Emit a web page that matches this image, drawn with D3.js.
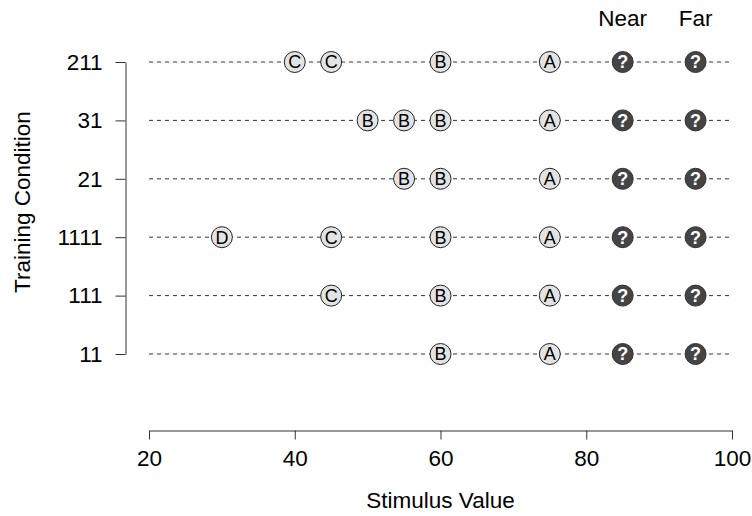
<!DOCTYPE html>
<html>
<head>
<meta charset="utf-8">
<script src="https://cdn.jsdelivr.net/npm/d3@7"></script>
<style>
  body { margin: 0; background: #fff; }
  text { font-family: "Liberation Sans", Arial, sans-serif; }
</style>
</head>
<body>
<div id="chart"></div>
<script>
// Training conditions, top to bottom
const conditions = ["211", "31", "21", "1111", "111", "11"];

// Training stimuli per condition (value and letter)
const trainValues = [
  [40, 45, 60, 75],
  [50, 55, 60, 75],
  [55, 60, 75],
  [30, 45, 60, 75],
  [45, 60, 75],
  [60, 75]
];
const trainLabels = [
  ["C", "C", "B", "A"],
  ["B", "B", "B", "A"],
  ["B", "B", "A"],
  ["D", "C", "B", "A"],
  ["C", "B", "A"],
  ["B", "A"]
];

// Test stimuli (same for every condition)
const testValues = [85, 95];
const testNames = ["Near", "Far"];

const xTicks = [20, 40, 60, 80, 100];

const W = 752, H = 516;
const plot = {left: 149, right: 732, top: 62, bottom: 354};
const axisY = 430.5, axisX = 125.5;
const fontSize = 22.5;

const svg = d3.select("#chart").append("svg")
    .attr("width", W)
    .attr("height", H);

const x = d3.scaleLinear().domain([20, 100]).range([plot.left, plot.right]);
const y = d3.scalePoint().domain(conditions).range([plot.top, plot.bottom]);

// Dashed guide lines for every condition
svg.append("g").selectAll("line")
    .data(conditions)
    .enter().append("line")
    .attr("x1", x(20))
    .attr("x2", x(100))
    .attr("y1", d => y(d))
    .attr("y2", d => y(d))
    .attr("stroke", "#333")
    .attr("stroke-width", 1)
    .attr("stroke-dasharray", "4,4");

// x axis
const xAxis = svg.append("g")
    .attr("transform", `translate(0, ${axisY})`)
    .call(d3.axisBottom(x).tickValues(xTicks).tickSize(9).tickSizeOuter(0).tickPadding(11));
xAxis.select(".domain").attr("stroke", "#333");
xAxis.selectAll(".tick line").attr("stroke", "#333");
xAxis.selectAll("text").attr("font-size", fontSize).attr("fill", "#000")
    .attr("font-family", "Liberation Sans, Arial, sans-serif");

// y axis
const yAxis = svg.append("g")
    .attr("transform", `translate(${axisX}, 0)`)
    .call(d3.axisLeft(y).tickSize(10).tickSizeOuter(0).tickPadding(13));
yAxis.select(".domain").attr("stroke", "#333");
yAxis.selectAll(".tick line").attr("stroke", "#333");
yAxis.selectAll("text").attr("font-size", fontSize).attr("fill", "#000")
    .attr("font-family", "Liberation Sans, Arial, sans-serif");

// Axis labels
svg.append("text")
    .attr("x", (plot.left + plot.right) / 2)
    .attr("y", 507.5)
    .attr("text-anchor", "middle")
    .attr("font-size", fontSize)
    .text("Stimulus Value");

svg.append("text")
    .attr("transform", "rotate(-90)")
    .attr("x", -202)
    .attr("y", 30)
    .attr("text-anchor", "middle")
    .attr("font-size", fontSize)
    .text("Training Condition");

// Near / Far headers
svg.append("g").selectAll("text")
    .data(testValues)
    .enter().append("text")
    .attr("x", d => x(d))
    .attr("y", 26)
    .attr("text-anchor", "middle")
    .attr("font-size", fontSize)
    .text((d, i) => testNames[i]);

// Training points
const trainPoints = conditions.flatMap((c, i) =>
  trainValues[i].map((v, j) => ({cond: c, value: v, label: trainLabels[i][j]})));

const tp = svg.append("g").selectAll("g")
    .data(trainPoints)
    .enter().append("g")
    .attr("transform", d => `translate(${x(d.value)}, ${y(d.cond)})`);

tp.append("circle")
    .attr("r", 10.5)
    .attr("fill", "#e3e3e3")
    .attr("stroke", "#222")
    .attr("stroke-width", 1);

tp.append("text")
    .attr("text-anchor", "middle")
    .attr("dy", "0.36em")
    .attr("font-size", 18)
    .attr("fill", "#000")
    .text(d => d.label);

// Test points
const testPoints = conditions.flatMap(c => testValues.map(v => ({cond: c, value: v})));

const qp = svg.append("g").selectAll("g")
    .data(testPoints)
    .enter().append("g")
    .attr("transform", d => `translate(${x(d.value)}, ${y(d.cond)})`);

qp.append("circle")
    .attr("r", 10.5)
    .attr("fill", "#444")
    .attr("stroke", "#333")
    .attr("stroke-width", 1);

qp.append("text")
    .attr("text-anchor", "middle")
    .attr("dy", "0.36em")
    .attr("font-size", 18)
    .attr("font-weight", "bold")
    .attr("fill", "#fff")
    .text("?");
</script>
</body>
</html>
